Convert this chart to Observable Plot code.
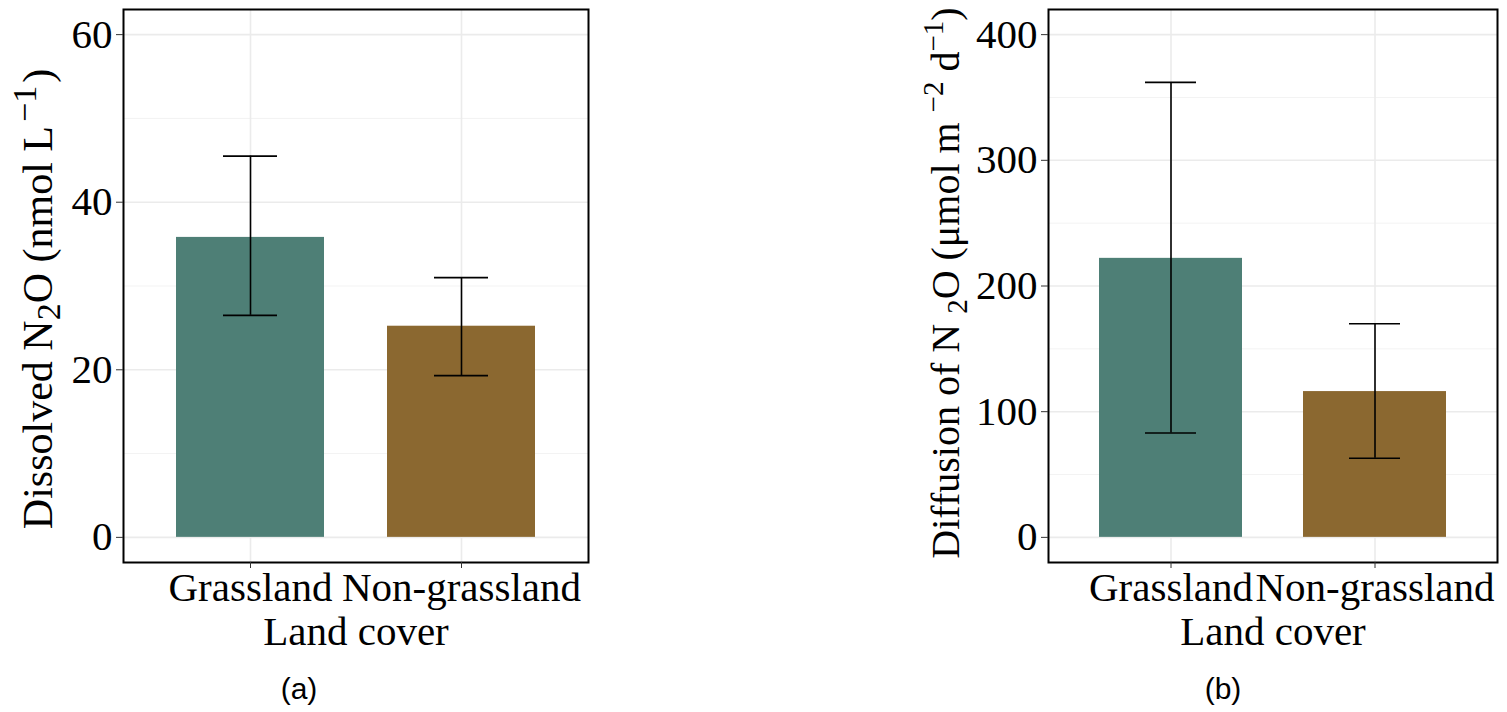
<!DOCTYPE html>
<html><head><meta charset="utf-8">
<script src="https://cdn.jsdelivr.net/npm/d3@7"></script>
<script src="https://cdn.jsdelivr.net/npm/@observablehq/plot@0.6"></script>
<style>
body{margin:0;background:#fff;}
#wrap{position:relative;width:1507px;height:712px;overflow:hidden;background:#fff;}
.panel{position:absolute;top:0;}
.cap{position:absolute;top:671px;line-height:36px;font-family:"Liberation Sans",Arial,sans-serif;font-size:30px;transform:translateX(-50%);color:#000;}
</style></head><body><div id="wrap"></div>
<script>
// ---- data ----
const categories = ["Grassland", "Non-grassland"];
const dissolvedMean = [35.8, 25.2];
const dissolvedLow = [26.5, 19.3];
const dissolvedHigh = [45.5, 31.0];
const diffusionMean = [222, 116];
const diffusionLow = [83, 63];
const diffusionHigh = [362, 170];
const dissolvedTicks = [0, 20, 40, 60];
const dissolvedMinor = [10, 30, 50];
const diffusionTicks = [0, 100, 200, 300, 400];
const diffusionMinor = [50, 150, 250, 350];
const xTitle = "Land cover";
const barColors = ["#4E7F76", "#8B6830"];

function rowsOf(mean, low, high) {
  return categories.map((c, i) => ({cat: c, mean: mean[i], low: low[i], high: high[i]}));
}

function makePanel(opt) {
  const rows = rowsOf(opt.mean, opt.low, opt.high);
  const chart = Plot.plot({
    width: opt.width,
    height: 712,
    marginLeft: opt.marginLeft,
    marginRight: opt.marginRight,
    marginTop: 9,
    marginBottom: 150,
    style: {fontFamily: '"Liberation Serif", "Times New Roman", serif', fontSize: "41px", background: "white", color: "black"},
    x: {domain: categories, paddingInner: 0.3, paddingOuter: 0.25, label: null},
    y: {domain: opt.domain, label: null},
    color: {domain: categories, range: barColors},
    marks: [
      Plot.gridY(opt.minor, {stroke: "#F3F3F3", strokeOpacity: 1, strokeWidth: 1}),
      Plot.gridY(opt.ticks, {stroke: "#EBEBEB", strokeOpacity: 1, strokeWidth: 1.6}),
      Plot.gridX(categories, {stroke: "#EBEBEB", strokeOpacity: 1, strokeWidth: 1.6}),
      Plot.barY(rows, {x: "cat", y: "mean", fill: "cat"}),
      Plot.ruleX(rows, {x: "cat", y1: "low", y2: "high", stroke: "black", strokeWidth: 1.6}),
      Plot.tickY(rows, {x: "cat", y: "high", insetLeft: opt.capInset, insetRight: opt.capInset, stroke: "black", strokeWidth: 1.6}),
      Plot.tickY(rows, {x: "cat", y: "low", insetLeft: opt.capInset, insetRight: opt.capInset, stroke: "black", strokeWidth: 1.6}),
      Plot.frame({stroke: "black", strokeWidth: 2}),
      Plot.axisY(opt.ticks, {tickSize: 7, tickPadding: 4, label: null, fontSize: 41, stroke: "#333"}),
      Plot.axisX({tickSize: 6, tickPadding: 3, label: xTitle, labelAnchor: "center", labelOffset: 82, fontSize: 41, stroke: "#333"})
    ]
  });
  // rotated y-axis title with sub/superscripts
  const svg = d3.select(chart.tagName.toLowerCase() === "svg" ? chart : chart.querySelector("svg"));
  const t = svg.append("text")
    .attr("transform", `translate(${opt.labelX},${opt.labelY}) rotate(-90)`)
    .attr("text-anchor", "middle")
    .attr("font-family", '"Liberation Serif", "Times New Roman", serif')
    .attr("font-size", opt.labelSize)
    .attr("fill", "black");
  for (const p of opt.labelParts) {
    const ts = t.append("tspan").text(p.t);
    if (p.s === "sub") ts.attr("font-size", opt.scriptSize).attr("dy", 8);
    else if (p.s === "sup") ts.attr("font-size", opt.scriptSize).attr("dy", -16);
    if (p.back) ts.attr("dy", p.back);
    if (p.dx) ts.attr("dx", p.dx);
  }
  return chart;
}

const wrap = document.getElementById("wrap");

const a = makePanel({
  mean: dissolvedMean, low: dissolvedLow, high: dissolvedHigh,
  ticks: dissolvedTicks, minor: dissolvedMinor, domain: [-3, 63],
  width: 600, marginLeft: 123, marginRight: 12, capInset: 47,
  labelX: 52, labelY: 299, labelSize: 42, scriptSize: 34,
  labelParts: [
    {t: "Dissolved N"}, {t: "2", s: "sub"}, {t: "O (nmol L", back: -8},
    {t: "−1", s: "sup", dx: 4}, {t: ")", back: 16, dx: 3}
  ]
});
a.classList.add("panel"); a.style.left = "0px";
wrap.appendChild(a);

const b = makePanel({
  mean: diffusionMean, low: diffusionLow, high: diffusionHigh,
  ticks: diffusionTicks, minor: diffusionMinor, domain: [-20, 420],
  width: 607, marginLeft: 148, marginRight: 10, capInset: 46,
  labelX: 59, labelY: 283, labelSize: 40, scriptSize: 29,
  labelParts: [
    {t: "Diffusion of N "}, {t: "2", s: "sub"}, {t: "O (μmol m ", back: -8},
    {t: "−2", s: "sup"}, {t: " d", back: 16}, {t: "−1", s: "sup"}, {t: ")", back: 16}
  ]
});
b.classList.add("panel"); b.style.left = "900px";
wrap.appendChild(b);

const capA = document.createElement("div"); capA.className = "cap"; capA.style.left = "299px"; capA.textContent = "(a)";
const capB = document.createElement("div"); capB.className = "cap"; capB.style.left = "1223px"; capB.textContent = "(b)";
wrap.appendChild(capA); wrap.appendChild(capB);
</script></body></html>
